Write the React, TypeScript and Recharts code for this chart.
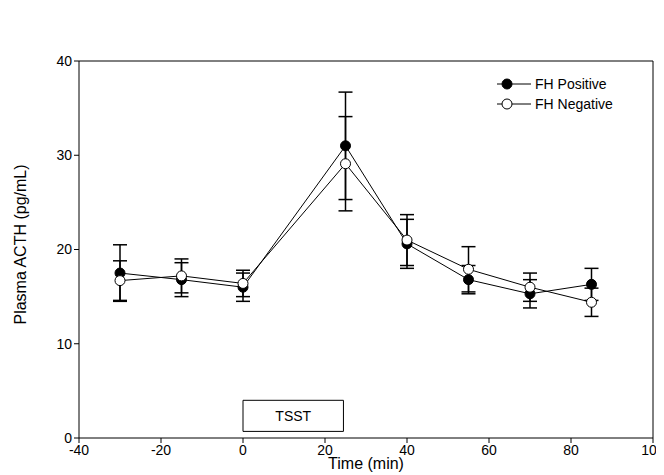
import React from "react";
import {
  ComposedChart,
  Line,
  XAxis,
  YAxis,
  ErrorBar,
  ReferenceArea,
  ReferenceLine,
  Legend,
} from "recharts";

const times = [-30, -15, 0, 25, 40, 55, 70, 85];
const fhPositive = [17.5, 16.8, 16.0, 31.0, 20.6, 16.8, 15.3, 16.3];
const fhPositiveErr = [3.0, 1.8, 1.5, 5.7, 2.6, 1.5, 1.5, 1.7];
const fhNegative = [16.7, 17.2, 16.4, 29.1, 21.0, 17.9, 16.0, 14.4];
const fhNegativeErr = [2.1, 1.8, 1.4, 5.0, 2.7, 2.4, 1.5, 1.5];
const xTicks = [-40, -20, 0, 20, 40, 60, 80, 100];
const yTicks = [0, 10, 20, 30, 40];

const posData = times.map((t, i) => ({ t, v: fhPositive[i], e: fhPositiveErr[i] }));
const negData = times.map((t, i) => ({ t, v: fhNegative[i], e: fhNegativeErr[i] }));

const font = "'Liberation Sans', Arial, sans-serif";

function LegendBox() {
  const row = (fill: string, label: string) => (
    <div style={{ display: "flex", alignItems: "center", height: 20 }}>
      <svg width={34} height={14}>
        <line x1={0} y1={7} x2={34} y2={7} stroke="#000" />
        <circle cx={10} cy={7} r={5} fill={fill} stroke="#000" />
      </svg>
      <span style={{ marginLeft: 4, fontSize: 14 }}>{label}</span>
    </div>
  );
  return (
    <div style={{ fontFamily: font }}>
      {row("#000", "FH Positive")}
      {row("#fff", "FH Negative")}
    </div>
  );
}

export default function App() {
  return (
    <div style={{ fontFamily: font }}>
      <ComposedChart
        width={656}
        height={467}
        margin={{ top: 13, right: 11, left: 0, bottom: 0 }}
      >
        <XAxis
          type="number"
          dataKey="t"
          domain={[-40, 100]}
          ticks={xTicks}
          allowDataOverflow
          height={37}
          stroke="#000"
          tick={{ fill: "#000", fontSize: 14 }}
          tickSize={5}
          label={{ value: "Time (min)", position: "insideBottom", offset: 6, fill: "#000", fontSize: 16 }}
        />
        <YAxis
          type="number"
          domain={[0, 40]}
          ticks={yTicks}
          width={71}
          stroke="#000"
          tick={{ fill: "#000", fontSize: 14 }}
          tickSize={5}
          label={{ value: "Plasma ACTH (pg/mL)", angle: -90, position: "insideLeft", offset: 12, dy: 75, fill: "#000", fontSize: 16 }}
        />
        <ReferenceLine y={40} stroke="#000" />
        <ReferenceLine x={100} stroke="#000" />
        <ReferenceArea
          x1={0}
          x2={24.5}
          y1={0.7}
          y2={4}
          fill="#fff"
          fillOpacity={1}
          stroke="#000"
          label={{ value: "TSST", fill: "#000", fontSize: 14 }}
        />
        <Legend
          verticalAlign="top"
          align="right"
          content={() => <LegendBox />}
          wrapperStyle={{ top: 66, left: 489, width: 140 }}
        />
        <Line
          data={posData}
          dataKey="v"
          stroke="#000"
          strokeWidth={1}
          dot={{ r: 5, fill: "#000", stroke: "#000" }}
          isAnimationActive={false}
        >
          <ErrorBar dataKey="e" direction="y" width={7} stroke="#000" />
        </Line>
        <Line
          data={negData}
          dataKey="v"
          stroke="#000"
          strokeWidth={1}
          dot={{ r: 5, fill: "#fff", stroke: "#000" }}
          isAnimationActive={false}
        >
          <ErrorBar dataKey="e" direction="y" width={7} stroke="#000" />
        </Line>
      </ComposedChart>
    </div>
  );
}
